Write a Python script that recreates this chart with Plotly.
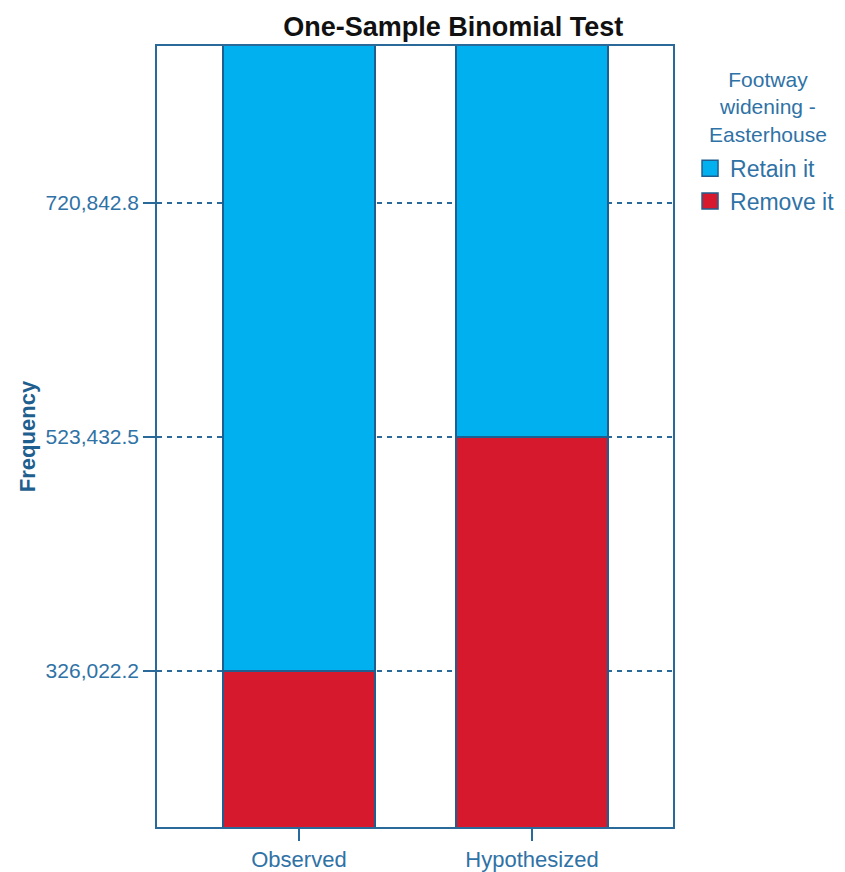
import plotly.graph_objects as go

categories = ["Observed", "Hypothesized"]
retain_values = [720842.8, 523432.5]
remove_values = [326022.2, 523432.5]
tick_values = [326022.2, 523432.5, 720842.8]
tick_labels = ["326,022.2", "523,432.5", "720,842.8"]
series_names = ["Retain it", "Remove it"]
series_colors = ["#00b0ef", "#d7192d"]
legend_title = "Footway<br>widening -<br>Easterhouse"

line_col = "#2a6a9a"
text_col = "#2f72a6"
edge_col = "#1f5f8f"

fig = go.Figure()
fig.add_trace(go.Bar(x=categories, y=remove_values, name=series_names[1],
                     marker=dict(color=series_colors[1], line=dict(color=edge_col, width=1.2)),
                     width=0.652, showlegend=False))
fig.add_trace(go.Bar(x=categories, y=retain_values, name=series_names[0],
                     marker=dict(color=series_colors[0], line=dict(color=edge_col, width=1.2)),
                     width=0.652, showlegend=False))
# legend entries with large square swatches
for name, col in zip(series_names, series_colors):
    fig.add_trace(go.Scatter(x=[None], y=[None], mode="markers", name=name,
                             marker=dict(symbol="square", size=16, color=col,
                                         line=dict(color=edge_col, width=1.5))))

# legend title
fig.add_annotation(text=legend_title, xref="paper", yref="paper", x=1.184, y=0.9225,
                   xanchor="center", yanchor="middle", align="center", showarrow=False,
                   font=dict(size=21, color=text_col))

fig.update_layout(
    barmode="stack",
    width=845, height=872,
    margin=dict(l=149, r=180, t=38, b=53, autoexpand=False),
    plot_bgcolor="white", paper_bgcolor="white",
    font=dict(family="Liberation Sans, Arial, sans-serif", color=text_col, size=21),
    title=dict(text="<b>One-Sample Binomial Test</b>", x=0.574, xref="paper", xanchor="center",
               y=0.979, yref="container", yanchor="middle",
               font=dict(family="Liberation Sans, Arial", size=27, color="#111111")),
    legend=dict(
        x=1.033, xanchor="left", y=0.871, yanchor="top",
        font=dict(size=23, color=text_col),
        itemsizing="trace",
        itemwidth=30,
        traceorder="normal",
        bgcolor="rgba(0,0,0,0)",
    ),
    showlegend=True,
)
fig.update_xaxes(range=[-0.609, 1.605], showline=True, linecolor=line_col, linewidth=1.5,
                 mirror=True, ticks="outside", ticklen=12, tickcolor=line_col, tickwidth=1.5,
                 showgrid=False, automargin=False, tickfont=dict(size=22, color=text_col))
fig.update_yaxes(range=[194421, 853288], showline=True, linecolor=line_col, linewidth=1.5,
                 mirror=True, ticks="outside", ticklen=12, tickcolor=line_col, tickwidth=1.5,
                 tickvals=tick_values, ticktext=tick_labels,
                 showgrid=True, gridcolor=line_col, griddash="5px,5px", gridwidth=1.5,
                 zeroline=False, automargin=False, tickfont=dict(size=21, color=text_col),
                 title=dict(text="<b>Frequency</b>", font=dict(size=22, color=edge_col), standoff=4))

fig.write_html("out.html")
